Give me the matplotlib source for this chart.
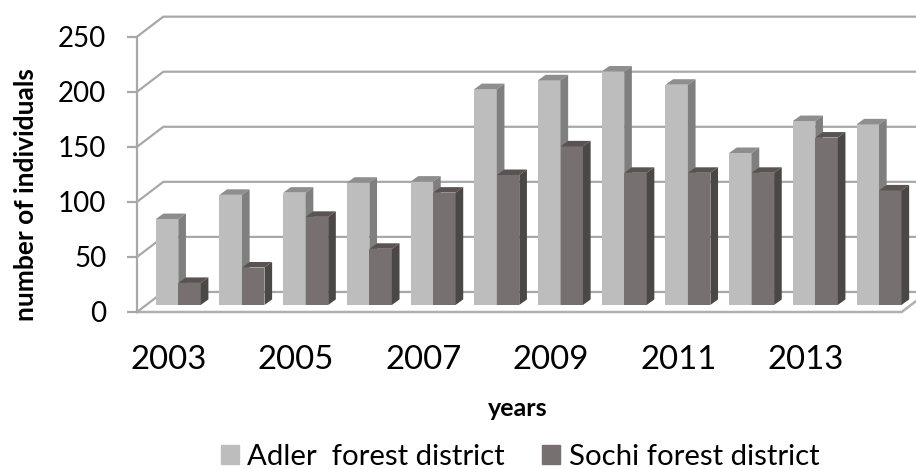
import matplotlib
matplotlib.use("Agg")
import matplotlib.pyplot as plt
from matplotlib.patches import Patch

plt.rcParams["font.family"] = ["Lato", "DejaVu Sans"]

years = [2003, 2004, 2005, 2006, 2007, 2008, 2009, 2010, 2011, 2012, 2013, 2014]
adler = [78, 100, 102, 111, 112, 196, 204, 212, 200, 138, 167, 164]
sochi = [20, 34, 80, 51, 102, 118, 144, 120, 120, 120, 152, 104]
y_ticks = [0, 50, 100, 150, 200, 250]

# pseudo 3d depth, in data units
wall_dx, wall_dy = 0.413, 18.2
bar_dx, bar_dy = 0.12, 5
base = 6.4
bar_w = 0.353

fig = plt.figure(figsize=(9.16, 4.69), dpi=100)
ax = fig.add_axes([137 / 916, (469 - 312) / 469, 764.7 / 916, 275.3 / 469])
ax.set_xlim(-0.648, 11.356)
ax.set_ylim(0, 250)
x_lo, x_hi = ax.get_xlim()

grid_c = "#a8a8a8"

# walls
for v in y_ticks:
    ax.plot([x_lo, x_lo + wall_dx, x_hi + wall_dx], [v, v + wall_dy, v + wall_dy],
            color=grid_c, lw=1.6, clip_on=False, zorder=1)
# floor
ax.plot([x_lo, x_hi, x_hi + wall_dx], [0, 0, wall_dy], color="#b0b0b0", lw=1.8,
        clip_on=False, zorder=1)


def draw_bar(left, value, front, top, side, z):
    ax.bar(left, value, bar_w, bottom=base, align="edge", color=front, lw=0, zorder=z,
           clip_on=False)
    right = left + bar_w
    y_top = base + value
    ax.fill([left, left + bar_dx, right + bar_dx, right],
            [y_top, y_top + bar_dy, y_top + bar_dy, y_top], color=top, lw=0, zorder=z,
            clip_on=False)
    ax.fill([right, right + bar_dx, right + bar_dx, right],
            [base, base + bar_dy, y_top + bar_dy, y_top], color=side, lw=0, zorder=z,
            clip_on=False)


z = 2
for i in range(len(years)):
    draw_bar(i - bar_w, adler[i], "#bdbdbd", "#8e8e8e", "#7f7f7f", z)
    draw_bar(i, sochi[i], "#767170", "#595453", "#4b4746", z + 1)
    z += 2

for s in ["top", "right", "bottom"]:
    ax.spines[s].set_visible(False)
ax.spines["left"].set_color(grid_c)
ax.spines["left"].set_linewidth(1.6)

ax.set_yticks(y_ticks)
ax.tick_params(axis="y", length=7, width=1.6, color=grid_c, labelsize=20, pad=15)
ax.set_xticks([i - 0.15 for i in range(0, 12, 2)])
ax.set_xticklabels([str(y) for y in years[::2]])
ax.tick_params(axis="x", length=0, labelsize=23.7, pad=24)

fig.text(26 / 916, 1 - 195 / 469, "number of individuals", rotation=90, fontsize=19,
         fontweight="bold", ha="center", va="center")
fig.text(518 / 916, 1 - 408 / 469, "years", fontsize=18, fontweight="bold",
         ha="center", va="center")

handles = [Patch(color="#bdbdbd", label="Adler  forest district"),
           Patch(color="#767170", label="Sochi forest district")]
fig.legend(handles=handles, loc="center", bbox_to_anchor=(520 / 916, 1 - 457 / 469),
           ncol=2, frameon=False, fontsize=21.2, handlelength=0.61, handleheight=0.61,
           handletextpad=0.3, columnspacing=1.25, borderpad=0)

plt.savefig("out.png", dpi=100)
